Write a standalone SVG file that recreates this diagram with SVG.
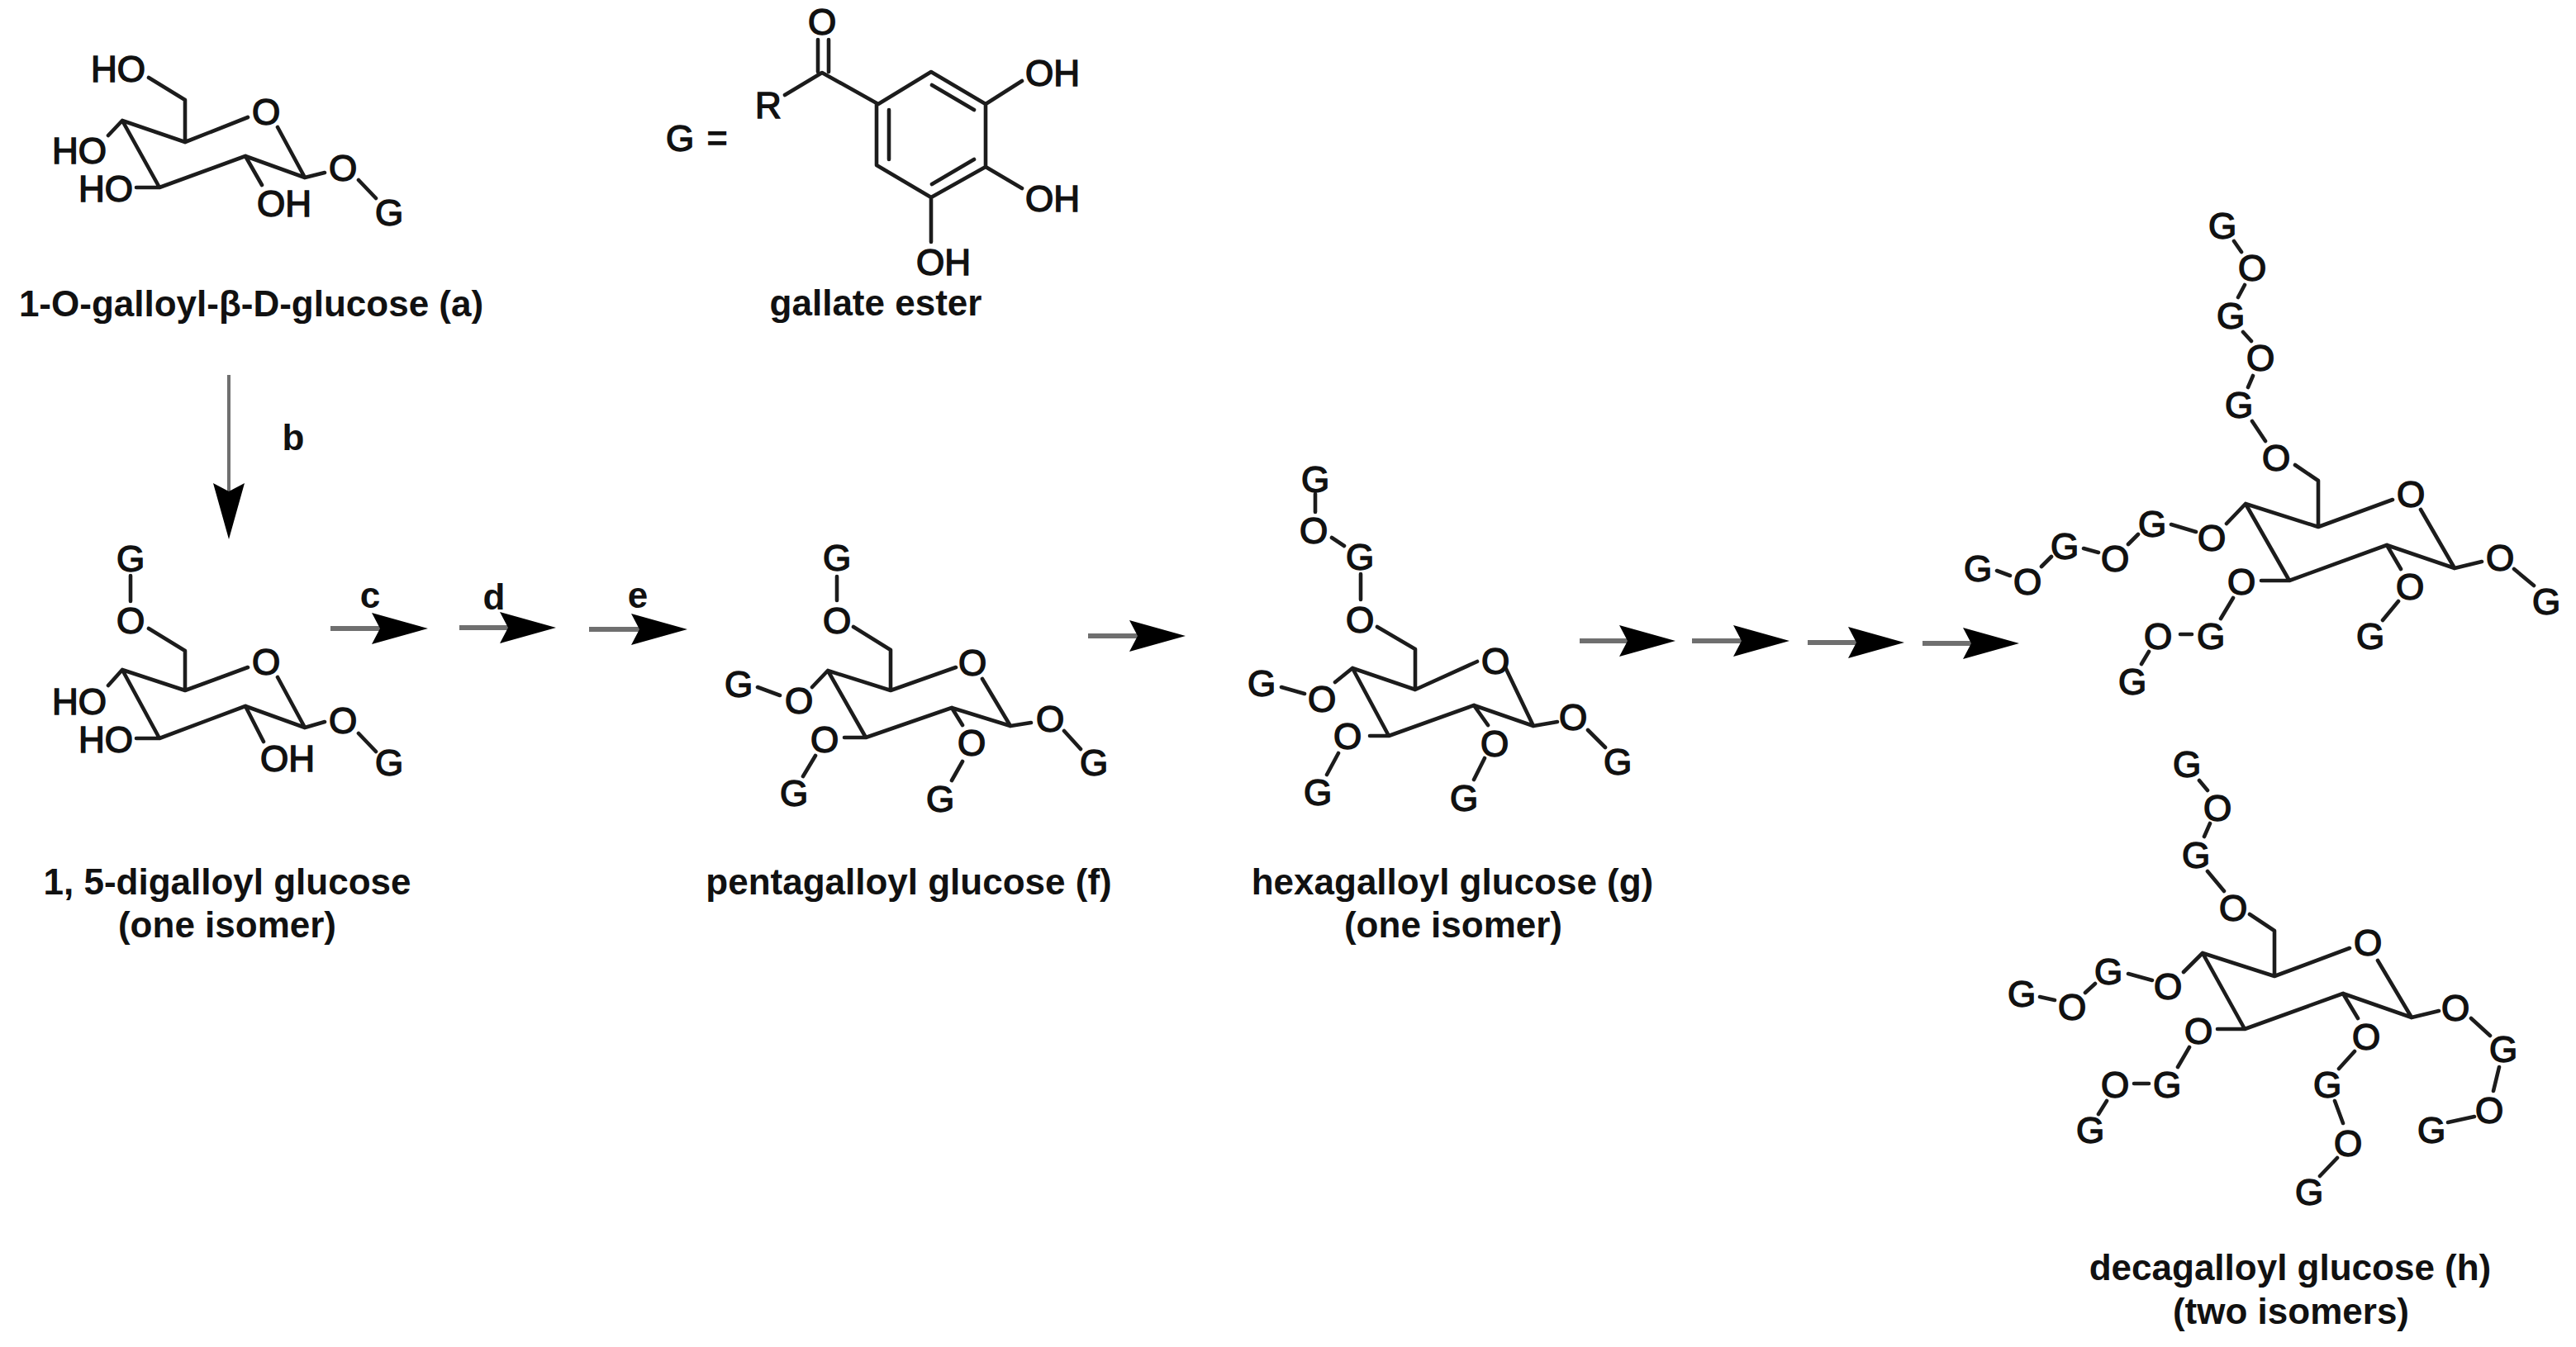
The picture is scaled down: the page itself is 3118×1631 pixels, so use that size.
<svg xmlns="http://www.w3.org/2000/svg" width="3118" height="1631" viewBox="0 0 3118 1631">
<style>
text{font-family:"Liberation Sans",Arial,sans-serif;fill:#111}
.a{font-size:44px;text-anchor:middle;stroke:#111;stroke-width:1.5px}
.c{font-size:44px;font-weight:bold;text-anchor:middle}
.b{fill:none;stroke:#1c1c1c;stroke-width:4.6px;stroke-linecap:round;stroke-linejoin:round}
.r{fill:none;stroke:#6f6f6f;stroke-width:6px}
.bg{fill:#fff}
</style>
<defs>
<marker id="head" markerUnits="userSpaceOnUse" markerWidth="70" markerHeight="40" viewBox="0 0 70 40" refX="10" refY="20" orient="auto">
<path d="M0 1L68 20L0 39L10 20Z" fill="#000"/>
</marker>
</defs>
<rect class="bg" width="3118" height="1631"/>
<g id="connectors">
<line class="r" style="stroke-width:4px" x1="277" y1="454" x2="277" y2="595" marker-end="url(#head)"/>
<line class="r" x1="400" y1="761" x2="460" y2="761" marker-end="url(#head)"/>
<line class="r" x1="556" y1="760" x2="615" y2="760" marker-end="url(#head)"/>
<line class="r" x1="713" y1="762" x2="774" y2="762" marker-end="url(#head)"/>
<line class="r" x1="1317" y1="770" x2="1377" y2="770" marker-end="url(#head)"/>
<line class="r" x1="1912" y1="776" x2="1970" y2="776" marker-end="url(#head)"/>
<line class="r" x1="2048" y1="776" x2="2108" y2="776" marker-end="url(#head)"/>
<line class="r" x1="2188" y1="778" x2="2247" y2="778" marker-end="url(#head)"/>
<line class="r" x1="2327" y1="779" x2="2386" y2="779" marker-end="url(#head)"/>
</g>
<g id="step-labels">
<text class="c" x="355" y="545">b</text>
<text class="c" x="448" y="736">c</text>
<text class="c" x="598" y="738">d</text>
<text class="c" x="772" y="736">e</text>
</g>
<g id="node-a">
<path class="b" d="M180 94L224 121V172L148 146L193 227L297 189L369 215L393 209M224 172L300 142M336 154L369 215M148 146L131 164M193 227H165M297 189L317 224M434 218L455 240"/>
<text class="a" x="143" y="99">HO</text>
<text class="a" x="322" y="151">O</text>
<text class="a" x="96" y="198">HO</text>
<text class="a" x="128" y="244">HO</text>
<text class="a" x="344" y="262">OH</text>
<text class="a" x="415" y="219">O</text>
<text class="a" x="471" y="273">G</text>
<text class="c" x="304" y="383">1-O-galloyl-β-D-glucose (a)</text>
</g>
<g id="node-gallate">
<path class="b" d="M990 48V87M1003 48V87M950 115L995 88L1063 126L1127 87L1193 126V202L1127 239L1061 200V126M1128 103L1179 133M1076 133V193M1179 193L1128 223M1193 126L1237 98M1193 202L1237 228M1127 239V293"/>
<text class="a" x="823" y="183">G</text>
<text class="a" style="font-weight:bold;stroke:none" x="868" y="183">=</text>
<text class="a" x="930" y="143">R</text>
<text class="a" x="995" y="42">O</text>
<text class="a" x="1274" y="104">OH</text>
<text class="a" x="1274" y="256">OH</text>
<text class="a" x="1142" y="333">OH</text>
<text class="c" x="1060" y="382">gallate ester</text>
</g>
<g id="node-digalloyl">
<path class="b" d="M158 697V728M180 761L224 788V836L148 811L193 894L297 855L369 881L393 874M224 836L300 808M336 820L369 881M148 811L131 830M193 894H165M297 855L319 898M434 888L455 910"/>
<text class="a" x="158" y="692">G</text>
<text class="a" x="158" y="767">O</text>
<text class="a" x="322" y="817">O</text>
<text class="a" x="96" y="865">HO</text>
<text class="a" x="128" y="911">HO</text>
<text class="a" x="348" y="934">OH</text>
<text class="a" x="415" y="888">O</text>
<text class="a" x="471" y="939">G</text>
<text class="c" x="275" y="1083">1, 5-digalloyl glucose</text>
<text class="c" x="275" y="1135">(one isomer)</text>
</g>
<g id="node-pentagalloyl">
<path class="b" d="M1013 698V727M1033 759L1078 787V836L1002 812L1048 893L1152 857L1223 879L1248 875M1078 836L1157 808M1189 822L1223 879M917 832L944 842M1002 812L983 832M1048 893H1022M987 915L972 940M1152 857L1165 878M1165 922L1152 945M1288 885L1308 907"/>
<text class="a" x="1013" y="691">G</text>
<text class="a" x="1013" y="767">O</text>
<text class="a" x="1177" y="818">O</text>
<text class="a" x="894" y="844">G</text>
<text class="a" x="967" y="864">O</text>
<text class="a" x="998" y="911">O</text>
<text class="a" x="961" y="976">G</text>
<text class="a" x="1176" y="915">O</text>
<text class="a" x="1138" y="983">G</text>
<text class="a" x="1271" y="886">O</text>
<text class="a" x="1324" y="939">G</text>
<text class="c" x="1100" y="1083">pentagalloyl glucose (f)</text>
</g>
<g id="node-hexagalloyl">
<path class="b" d="M1592 598V620M1612 651L1627 661M1647 695V726M1667 759L1713 786V835L1637 809L1681 891L1784 854L1856 879L1885 874M1713 835L1788 801M1822 808L1856 879M1551 832L1579 840M1637 809L1616 826M1681 891H1658M1620 912L1606 938M1784 854L1801 878M1797 918L1784 944M1922 884L1943 905"/>
<text class="a" x="1592" y="596">G</text>
<text class="a" x="1590" y="658">O</text>
<text class="a" x="1646" y="690">G</text>
<text class="a" x="1646" y="766">O</text>
<text class="a" x="1810" y="816">O</text>
<text class="a" x="1527" y="843">G</text>
<text class="a" x="1600" y="862">O</text>
<text class="a" x="1631" y="907">O</text>
<text class="a" x="1595" y="975">G</text>
<text class="a" x="1809" y="916">O</text>
<text class="a" x="1772" y="982">G</text>
<text class="a" x="1904" y="884">O</text>
<text class="a" x="1958" y="938">G</text>
<text class="c" x="1758" y="1083">hexagalloyl glucose (g)</text>
<text class="c" x="1759" y="1135">(one isomer)</text>
</g>
<g id="node-decagalloyl-1">
<path class="b" d="M2704 292L2713 305M2717 345L2709 360M2715 402L2725 413M2727 455L2721 469M2726 510L2742 534M2778 563L2806 582V638L2718 610L2771 703L2889 660L2971 688L3004 680M2806 638L2896 605M2930 617L2971 688M2718 610L2695 634M2658 644L2628 635M2588 647L2576 659M2540 669L2522 664M2483 674L2471 686M2433 697L2417 691M2771 703H2737M2703 724L2688 749M2653 768H2639M2601 789L2592 804M2889 660L2906 689M2903 728L2884 751M3043 689L3067 709"/>
<text class="a" x="2690" y="289">G</text>
<text class="a" x="2726" y="340">O</text>
<text class="a" x="2700" y="398">G</text>
<text class="a" x="2736" y="449">O</text>
<text class="a" x="2710" y="506">G</text>
<text class="a" x="2755" y="570">O</text>
<text class="a" x="2918" y="614">O</text>
<text class="a" x="2677" y="667">O</text>
<text class="a" x="2605" y="650">G</text>
<text class="a" x="2560" y="692">O</text>
<text class="a" x="2499" y="677">G</text>
<text class="a" x="2454" y="720">O</text>
<text class="a" x="2394" y="704">G</text>
<text class="a" x="2713" y="720">O</text>
<text class="a" x="2676" y="786">G</text>
<text class="a" x="2612" y="786">O</text>
<text class="a" x="2581" y="841">G</text>
<text class="a" x="2917" y="726">O</text>
<text class="a" x="2869" y="786">G</text>
<text class="a" x="3026" y="691">O</text>
<text class="a" x="3082" y="744">G</text>
</g>
<g id="node-decagalloyl-2">
<path class="b" d="M2662 945L2672 957M2675 997L2668 1013M2672 1055L2692 1079M2723 1107L2753 1127V1182L2666 1154L2717 1246L2836 1203L2919 1232L2952 1224M2753 1182L2844 1148M2878 1163L2919 1232M2666 1154L2643 1177M2605 1187L2576 1179M2536 1191L2524 1202M2487 1211L2469 1207M2717 1246H2684M2650 1268L2636 1292M2601 1312H2583M2550 1333L2540 1349M2836 1203L2854 1233M2850 1273L2831 1294M2826 1333L2836 1360M2829 1402L2808 1424M2991 1233L3014 1254M3025 1292L3018 1321M2995 1352L2963 1359"/>
<text class="a" x="2647" y="941">G</text>
<text class="a" x="2684" y="994">O</text>
<text class="a" x="2658" y="1051">G</text>
<text class="a" x="2703" y="1115">O</text>
<text class="a" x="2866" y="1157">O</text>
<text class="a" x="2624" y="1210">O</text>
<text class="a" x="2552" y="1192">G</text>
<text class="a" x="2508" y="1235">O</text>
<text class="a" x="2447" y="1219">G</text>
<text class="a" x="2661" y="1264">O</text>
<text class="a" x="2623" y="1329">G</text>
<text class="a" x="2560" y="1329">O</text>
<text class="a" x="2530" y="1384">G</text>
<text class="a" x="2864" y="1271">O</text>
<text class="a" x="2817" y="1329">G</text>
<text class="a" x="2842" y="1400">O</text>
<text class="a" x="2795" y="1459">G</text>
<text class="a" x="2972" y="1236">O</text>
<text class="a" x="3030" y="1286">G</text>
<text class="a" x="3013" y="1360">O</text>
<text class="a" x="2943" y="1384">G</text>
<text class="c" x="2772" y="1550">decagalloyl glucose (h)</text>
<text class="c" x="2773" y="1603">(two isomers)</text>
</g>
</svg>
